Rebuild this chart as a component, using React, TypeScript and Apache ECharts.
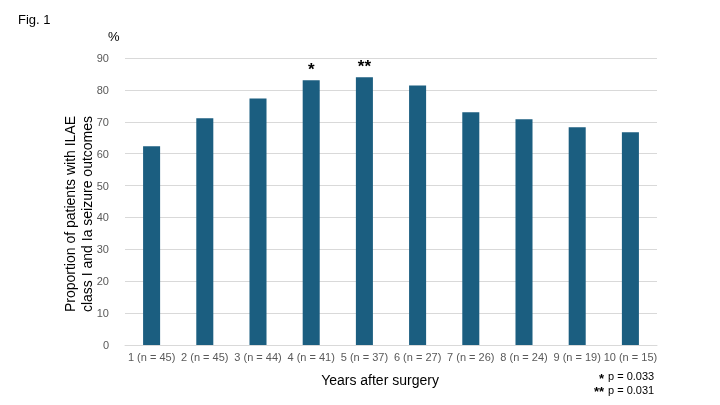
import React, { useEffect, useRef } from "react";
import * as echarts from "echarts";

const categories = ["1 (n = 45)", "2 (n = 45)", "3 (n = 44)", "4 (n = 41)", "5 (n = 37)", "6 (n = 27)", "7 (n = 26)", "8 (n = 24)", "9 (n = 19)", "10 (n = 15)"];
const values = [62.3, 71.1, 77.3, 83.0, 84.0, 81.4, 73.0, 70.8, 68.3, 66.7];
const marks = ["", "", "", "*", "**", "", "", "", "", ""];
const notes = [
  { star: "*", text: "p = 0.033" },
  { star: "**", text: "p = 0.031" },
];
const yTitle = "Proportion of patients with ILAE\nclass I and Ia seizure outcomes";
const xTitle = "Years after surgery";

const FONT = "Liberation Sans, Arial, sans-serif";

export default function App() {
  const ref = useRef<HTMLDivElement>(null);
  useEffect(() => {
    if (!ref.current) return;
    const chart = echarts.init(ref.current, undefined, { renderer: "svg" });
    chart.setOption({
      animation: false,
      textStyle: { fontFamily: FONT },
      grid: { left: 125, right: 63, top: 58, bottom: 60 },
      xAxis: {
        type: "category",
        data: categories,
        axisLine: { lineStyle: { color: "#d9d9d9" } },
        axisTick: { show: false },
        axisLabel: { fontSize: 11, color: "#595959", interval: 0, margin: 6, fontFamily: FONT },
      },
      yAxis: {
        type: "value",
        min: 0,
        max: 90,
        interval: 10,
        axisLine: { show: false },
        axisTick: { show: false },
        axisLabel: { fontSize: 11, color: "#595959", margin: 16, fontFamily: FONT },
        splitLine: { lineStyle: { color: "#d9d9d9" } },
      },
      series: [
        {
          type: "bar",
          data: values,
          barWidth: "32%",
          itemStyle: { color: "#1b5e80" },
          label: {
            show: true,
            position: "top",
            distance: 2,
            formatter: (p: any) => marks[p.dataIndex],
            fontSize: 17,
            fontWeight: "bold",
            color: "#000",
            fontFamily: FONT,
          },
        },
      ],
      graphic: [
        { type: "text", left: 18, top: 13, style: { text: "Fig. 1", fontSize: 13, fill: "#000", fontFamily: FONT } },
        { type: "text", left: 108, top: 30, style: { text: "%", fontSize: 13, fill: "#000", fontFamily: FONT } },
        {
          type: "text",
          x: 78,
          y: 214,
          rotation: Math.PI / 2,
          style: { text: yTitle, fontSize: 14, lineHeight: 17, fill: "#000", align: "center", verticalAlign: "middle", fontFamily: FONT },
        },
        {
          type: "text",
          x: 380,
          y: 380,
          style: { text: xTitle, fontSize: 14, fill: "#000", align: "center", verticalAlign: "middle", fontFamily: FONT },
        },
        ...notes.flatMap((n, i) => [
          {
            type: "text",
            x: 604,
            y: 378 + i * 13.5,
            style: { text: n.star, fontSize: 13, lineHeight: 11, fontWeight: "bold", fill: "#000", align: "right", verticalAlign: "middle", fontFamily: FONT },
          },
          {
            type: "text",
            x: 608,
            y: 376 + i * 13.5,
            style: { text: n.text, fontSize: 11, lineHeight: 12, fill: "#000", align: "left", verticalAlign: "middle", fontFamily: FONT },
          },
        ]),
      ],
    });
    return () => chart.dispose();
  }, []);
  return <div ref={ref} style={{ position: "fixed", left: 0, top: 0, width: 720, height: 405 }} />;
}
